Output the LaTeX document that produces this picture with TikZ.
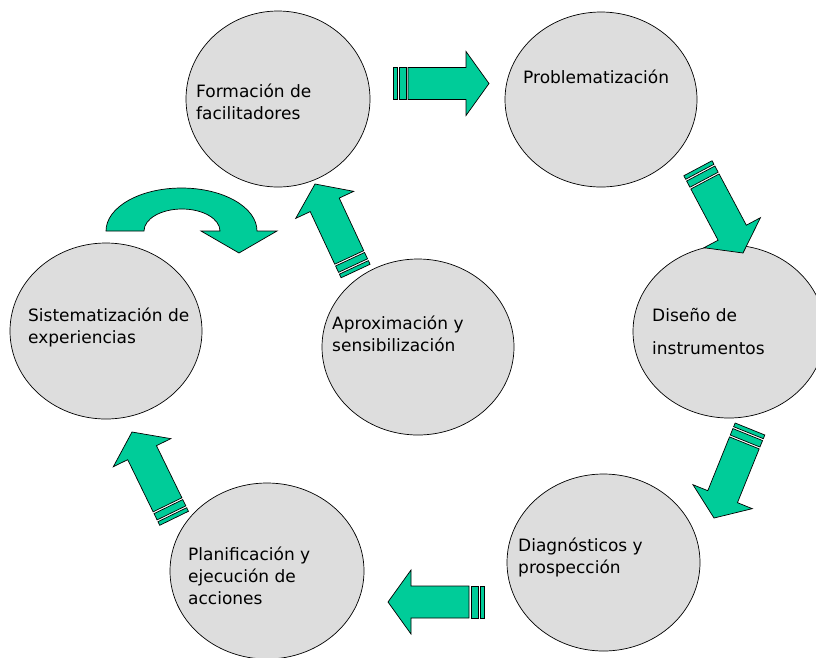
\documentclass[tikz,border=0pt]{standalone}
\usepackage{fontspec}
\setmainfont{DejaVu Sans}
\usetikzlibrary{shapes.geometric}
\definecolor{stagegray}{RGB}{221,221,221}
\definecolor{flowgreen}{RGB}{0,204,153}
\tikzset{
  stage/.style={ellipse, draw=black, line width=0.7pt, fill=stagegray, inner sep=0pt},
  caption/.style={anchor=north west, inner sep=0pt, align=left,
    font=\fontsize{17}{22}\selectfont, execute at begin node=\strut},
  blockarrow/.style={draw=black, line width=0.7pt, fill=flowgreen, line join=miter},
  % striped block arrow, tip at the origin, pointing along +x
  pics/flowarrow/.style={code={
    \path[blockarrow] (-96,-16) rectangle (-92,16);
    \path[blockarrow] (-90,-16) rectangle (-83,16);
    \path[blockarrow] (-81,-16) -- (-23,-16) -- (-23,-32) -- (0,0)
      -- (-23,32) -- (-23,16) -- (-81,16) -- cycle;
  }}
}
\begin{document}
\begin{tikzpicture}[x=1pt, y=-1pt]
\useasboundingbox (0,0) rectangle (816,657);
\clip (0,0) rectangle (816,657);

% stages of the cycle
\node[stage, minimum width=184pt, minimum height=176pt] (form) at (278,99) {};
\node[stage, minimum width=192pt, minimum height=175pt] (prob) at (601,99.5) {};
\node[stage, minimum width=192pt, minimum height=173pt] (dise) at (729,331.5) {};
\node[stage, minimum width=193pt, minimum height=177pt] (diag) at (603.5,562.5) {};
\node[stage, minimum width=194pt, minimum height=176pt] (plan) at (267,571) {};
\node[stage, minimum width=192pt, minimum height=176pt] (sist) at (106,331) {};
\node[stage, minimum width=192pt, minimum height=176pt] (aprox) at (418,347) {};

% stage labels
\node[caption] (formtxt) at (196,83.6) {Formación de\\facilitadores};
\node[caption] (probtxt) at (523,67.6) {Problematización};
\node[caption] (disetxt) at (652,307.6) {Diseño de\\[11pt]instrumentos};
\node[caption] (diagtxt) at (518,537.6) {Diagnósticos y\\prospección};
\node[caption] (plantxt) at (188,546.6) {Planificación y\\ejecución de\\acciones};
\node[caption] (sisttxt) at (28,307.6) {Sistematización de\\experiencias};
\node[caption] (aproxtxt) at (332,315.6) {Aproximación y\\sensibilización};

% block arrows between stages
\pic[rotate=0] (a1) at (489,83.5) {flowarrow};
\pic[rotate=-62] (a2) at (743,253) {flowarrow};
\pic[rotate=-112] (a3) at (714,518) {flowarrow};
\pic[rotate=180] (a4) at (388,602) {flowarrow};
\pic[rotate=116] (a5) at (132,432) {flowarrow};
\pic[rotate=115] (a6) at (315,184) {flowarrow};

% curved arrow over the left stage
\path[blockarrow] (106,231)
  arc[start angle=180, end angle=360, x radius=75.5, y radius=43]
  -- (277,231) -- (239,253) -- (201,231) -- (220,231)
  arc[start angle=0, end angle=-180, x radius=38, y radius=22]
  -- cycle;
\end{tikzpicture}
\end{document}
